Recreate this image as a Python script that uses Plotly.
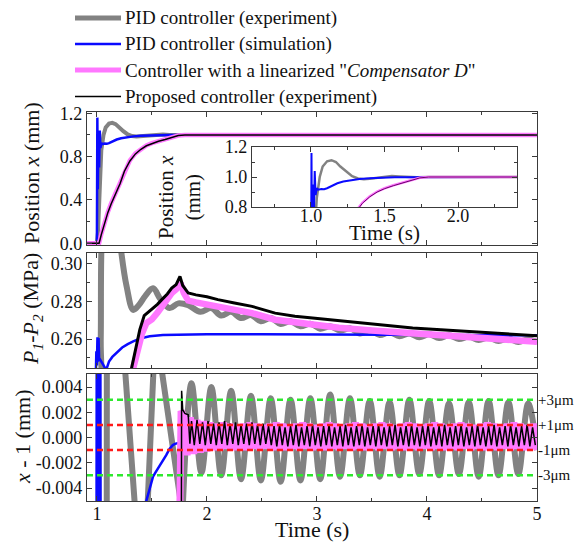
import plotly.graph_objects as go

# ====================== DATA ======================
# --- Top panel: position x (mm) ---
t_pos_gray = [0.91, 1.00, 1.01, 1.02, 1.03, 1.04, 1.06, 1.08, 1.11, 1.14, 1.17, 1.20, 1.24,
              1.28, 1.32, 1.36, 1.40, 1.45, 1.50, 1.55, 1.60, 1.66, 1.72, 1.80, 5.00]
x_pos_gray = [0.000, 0.000, 0.100, 0.450, 0.700, 0.860, 1.000, 1.070, 1.105, 1.112, 1.100, 1.070, 1.035,
              1.005, 0.990, 0.985, 0.988, 0.996, 1.004, 1.007, 1.004, 0.999, 0.998, 1.000, 1.000]

t_pos_blue = [0.91, 1.000, 1.004, 1.008, 1.014, 1.020, 1.026, 1.032, 1.040, 1.05, 1.07, 1.09, 1.11,
              1.14, 1.18, 1.22, 1.27, 1.33, 1.40, 1.48, 1.57, 1.67, 1.76, 5.00]
x_pos_blue = [0.000, 0.000, 1.160, 0.500, 0.950, 0.700, 1.040, 0.880, 0.925, 0.915, 0.920, 0.918, 0.925,
              0.940, 0.958, 0.970, 0.980, 0.987, 0.992, 0.996, 0.998, 0.999, 1.000, 1.000]

t_pos_prop = [0.91, 1.02, 1.04, 1.07, 1.10, 1.13, 1.17, 1.21, 1.25, 1.30, 1.35, 1.40, 1.45, 1.50,
              1.56, 1.62, 1.68, 1.74, 1.80, 5.00]
x_pos_black = [0.000, 0.000, 0.080, 0.190, 0.285, 0.365, 0.460, 0.550, 0.665, 0.760, 0.825, 0.868, 0.900,
               0.922, 0.942, 0.958, 0.978, 0.994, 1.000, 1.000]
x_pos_pink = [0.000, 0.000, 0.085, 0.195, 0.290, 0.370, 0.465, 0.555, 0.670, 0.765, 0.830, 0.872, 0.903,
              0.925, 0.945, 0.960, 0.980, 0.995, 1.000, 1.000]

# --- Middle panel: P1-P2 (MPa) ---
t_p_gray = [0.91, 1.02, 1.035, 1.05, 1.10, 1.18, 1.22, 1.27, 1.33, 1.38, 1.44, 1.51, 1.58, 1.66, 1.74,
            1.83, 1.94, 2.04, 2.13, 2.22, 2.31, 2.40, 2.49, 2.58, 2.67, 2.76, 2.85, 2.94, 3.03, 3.12,
            3.21, 3.30, 3.39, 3.48, 3.57, 3.66, 3.75, 3.84, 3.93, 4.02, 4.11, 4.20, 4.29, 4.38, 4.47,
            4.56, 4.65, 4.74, 4.83, 4.92, 5.00]
p_gray = [0.200, 0.200, 0.260, 0.320, 0.340, 0.330, 0.307, 0.288, 0.2755, 0.278, 0.283, 0.287, 0.281,
          0.2765, 0.279, 0.278, 0.2745, 0.2765, 0.2725, 0.2745, 0.2712, 0.2728, 0.2695, 0.2712, 0.2680,
          0.2695, 0.2668, 0.2682, 0.2655, 0.2668, 0.2645, 0.2658, 0.2630, 0.2645, 0.2622, 0.2636,
          0.2615, 0.2630, 0.2610, 0.2625, 0.2605, 0.2620, 0.2600, 0.2613, 0.2595, 0.2608, 0.2590,
          0.2603, 0.2585, 0.2598, 0.2585]

t_p_blue = [0.91, 0.990, 0.995, 1.000, 1.005, 1.010, 1.015, 1.020, 1.05, 1.075, 1.09, 1.11, 1.14, 1.18,
            1.23, 1.28, 1.33, 1.40, 1.48, 1.60, 1.80, 2.00, 2.50, 3.00, 3.50, 4.00, 4.50, 5.00]
p_blue = [0.240, 0.240, 0.2535, 0.2460, 0.2610, 0.2480, 0.2605, 0.2500, 0.2470, 0.2445, 0.2445, 0.2480,
          0.2505, 0.2528, 0.2555, 0.2573, 0.2588, 0.2604, 0.2615, 0.2621, 0.2624, 0.2625, 0.2625,
          0.2624, 0.2622, 0.2621, 0.2621, 0.2620]

t_p_black = [0.91, 1.29, 1.315, 1.35, 1.39, 1.43, 1.47, 1.50, 1.55, 1.59, 1.64, 1.68, 1.72, 1.755, 1.78,
             1.83, 1.90, 2.00, 2.10, 2.25, 2.41, 2.62, 2.80, 2.96, 3.20, 3.50, 3.87, 4.20, 4.50, 4.80, 5.00]
p_black = [0.200, 0.200, 0.2445, 0.2550, 0.2650, 0.2725, 0.2745, 0.2755, 0.2785, 0.2810, 0.2840, 0.2871,
           0.2890, 0.2933, 0.2885, 0.2845, 0.2835, 0.2825, 0.2810, 0.2792, 0.2774, 0.2738, 0.2722,
           0.2712, 0.2698, 0.2678, 0.2659, 0.2647, 0.2636, 0.2626, 0.2618]

t_p_pink = [0.91, 1.30, 1.33, 1.37, 1.41, 1.45, 1.50, 1.55, 1.59, 1.64, 1.68, 1.72, 1.76, 1.79, 1.83,
            1.90, 2.00, 2.10, 2.25, 2.41, 2.62, 2.80, 2.96, 3.20, 3.50, 3.87, 4.20, 4.50, 4.80, 5.00]
p_pink = [0.200, 0.200, 0.2445, 0.2550, 0.2630, 0.2685, 0.2705, 0.2740, 0.2774, 0.2810, 0.2845, 0.2865,
          0.2898, 0.2845, 0.2805, 0.2795, 0.2785, 0.2774, 0.2757, 0.2738, 0.2703, 0.2688, 0.2676,
          0.2660, 0.2645, 0.2630, 0.2615, 0.2603, 0.2592, 0.2586]

# --- Bottom panel: x - 1 (mm) ---
t_e_gray_a = [0.91, 1.085, 1.095, 1.17, 1.255, 1.345, 1.40, 1.46, 1.515, 1.545, 1.585, 1.76, 1.78]
e_gray_a = [-0.05, -0.05, 0.05, 0.10, 0.0055, -0.0055, -0.012, -0.0055, 0.0055, 0.008, 0.0055, -0.0050, -0.0056]
t_e_gray_b = [1.78, 1.86, 1.95, 2.04, 2.13, 2.22, 2.31, 2.40, 2.49, 2.58, 2.67, 2.76, 2.85, 2.94, 3.03,
              3.12, 3.21, 3.30, 3.39, 3.48, 3.57, 3.66, 3.75, 3.84, 3.93, 4.02, 4.11, 4.20, 4.29, 4.38,
              4.47, 4.56, 4.65, 4.74, 4.83, 4.92, 5.00]
e_gray_b = [-0.0056, 0.0043, -0.0028, 0.0040, -0.0030, 0.0037, -0.0033, 0.0033, -0.0034, 0.0031,
            -0.0035, 0.0030, -0.0034, 0.0031, -0.0033, 0.0034, -0.0031, 0.0031, -0.0030, 0.0029,
            -0.0031, 0.0028, -0.0030, 0.0030, -0.0029, 0.0029, -0.0030, 0.0027, -0.0029, 0.0028,
            -0.0031, 0.0029, -0.0030, 0.0028, -0.0029, 0.0027, -0.0010]

t_e_blue = [0.91, 0.995, 1.000, 1.005, 1.010, 1.015, 1.020, 1.025, 1.030, 1.035, 1.45, 1.47, 1.49, 1.51,
            1.53, 1.56, 1.60, 1.63, 1.66, 1.69, 1.71, 1.755, 1.80, 2.00, 2.50, 5.00]
e_blue = [-0.02, -0.02, 0.02, -0.02, 0.02, -0.02, 0.02, -0.02, 0.02, -0.02, -0.0050, -0.0043, -0.0037,
          -0.0031, -0.0028, -0.0024, -0.0019, -0.0014, -0.0009, -0.0006, -0.0005, -0.0004, -0.0003,
          -0.0002, 0.0, 0.0]

t_e_pink = [0.91, 1.745, 1.755, 1.765,
            1.79, 1.82, 1.85, 1.88, 1.91, 1.94, 1.97, 2.00, 2.03, 2.06, 2.09, 2.12, 2.15, 2.18, 2.21, 2.24,
            2.27, 2.30, 2.33, 2.36, 2.39, 2.42, 2.45, 2.48, 2.51, 2.54, 2.57, 2.60, 2.63, 2.66, 2.69,
            2.72, 2.75, 2.78, 2.81, 2.84, 2.87, 2.90, 2.93, 2.96, 2.99, 3.02, 3.05, 3.08, 3.11, 3.14,
            3.17, 3.20, 3.23, 3.26, 3.29, 3.32, 3.35, 3.38, 3.41, 3.44, 3.47, 3.50, 3.53, 3.56, 3.59,
            3.62, 3.65, 3.68, 3.71, 3.74, 3.77, 3.80, 3.83, 3.86, 3.89, 3.92, 3.95, 3.98, 4.01, 4.04,
            4.07, 4.10, 4.13, 4.16, 4.19, 4.22, 4.25, 4.28, 4.31, 4.34, 4.37, 4.40, 4.43, 4.46, 4.49,
            4.52, 4.55, 4.58, 4.61, 4.64, 4.67, 4.70, 4.73, 4.76, 4.79, 4.82, 4.85, 4.88, 4.91, 4.94,
            4.97, 5.00]
e_pink = [-0.02, -0.02, -0.005, 0.0021,
          0.0017, -0.0014, 0.0016, -0.0013, 0.0014, -0.0012, 0.0013, -0.0011, 0.0012, -0.0010,
          0.0011, -0.0010, 0.0012, -0.0009, 0.0011, -0.0010, 0.0010, -0.0009, 0.0011, -0.0010,
          0.0012, -0.0009, 0.0011, -0.0010, 0.0010, -0.0009, 0.0011, -0.0010, 0.0012, -0.0009,
          0.0011, -0.0010, 0.0010, -0.0009, 0.0011, -0.0010, 0.0012, -0.0009, 0.0011, -0.0010,
          0.0010, -0.0009, 0.0011, -0.0010, 0.0012, -0.0009, 0.0011, -0.0010, 0.0010, -0.0009,
          0.0011, -0.0010, 0.0012, -0.0009, 0.0011, -0.0010, 0.0010, -0.0009, 0.0011, -0.0010,
          0.0012, -0.0009, 0.0011, -0.0010, 0.0010, -0.0009, 0.0011, -0.0010, 0.0012, -0.0009,
          0.0011, -0.0010, 0.0010, -0.0009, 0.0011, -0.0010, 0.0012, -0.0009, 0.0011, -0.0010,
          0.0010, -0.0009, 0.0011, -0.0010, 0.0012, -0.0009, 0.0011, -0.0010, 0.0010, -0.0009,
          0.0011, -0.0010, 0.0012, -0.0009, 0.0011, -0.0010, 0.0010, -0.0009, 0.0011, -0.0010,
          0.0012, -0.0009, 0.0011, -0.0010, 0.0010, -0.0009, 0.0011, -0.0010]

t_e_black = [0.91, 1.765, 1.770, 1.780, 1.800, 1.830, 1.845,
             1.860, 1.885, 1.910, 1.935, 1.960, 1.985, 2.010, 2.035, 2.060, 2.085,
             2.110, 2.135, 2.160, 2.185, 2.210, 2.235, 2.260, 2.285, 2.310, 2.335,
             2.360, 2.385, 2.410, 2.435, 2.460, 2.485, 2.510, 2.535, 2.560, 2.585,
             2.610, 2.635, 2.660, 2.685, 2.710, 2.735, 2.760, 2.785, 2.810, 2.835,
             2.860, 2.885, 2.910, 2.935, 2.960, 2.985, 3.010, 3.035, 3.060, 3.085,
             3.110, 3.135, 3.160, 3.185, 3.210, 3.235, 3.260, 3.285, 3.310, 3.335,
             3.360, 3.385, 3.410, 3.435, 3.460, 3.485, 3.510, 3.535, 3.560, 3.585,
             3.610, 3.635, 3.660, 3.685, 3.710, 3.735, 3.760, 3.785, 3.810, 3.835,
             3.860, 3.885, 3.910, 3.935, 3.960, 3.985, 4.010, 4.035, 4.060, 4.085,
             4.110, 4.135, 4.160, 4.185, 4.210, 4.235, 4.260, 4.285, 4.310, 4.335,
             4.360, 4.385, 4.410, 4.435, 4.460, 4.485, 4.510, 4.535, 4.560, 4.585,
             4.610, 4.635, 4.660, 4.685, 4.710, 4.735, 4.760, 4.785, 4.810, 4.835,
             4.860, 4.885, 4.910, 4.935, 4.960, 4.985]
e_black = [-0.02, -0.02, 0.0037, 0.0022, 0.0019, 0.0018, -0.0005,
           0.0013, -0.0006, 0.0014, -0.0005, 0.0012, -0.0006, 0.0013, -0.0005, 0.0011, -0.0006,
           0.0012, -0.0005, 0.0013, -0.0006, 0.0011, -0.0005, 0.0012, -0.0006, 0.0010, -0.0005,
           0.0011, -0.0006, 0.0012, -0.0005, 0.0010, -0.0006, 0.0011, -0.0005, 0.0009, -0.0006,
           0.0009, -0.0007, 0.0010, -0.0006, 0.0008, -0.0007, 0.0009, -0.0006, 0.0010, -0.0007,
           0.0008, -0.0006, 0.0009, -0.0007, 0.0010, -0.0006, 0.0008, -0.0007, 0.0009, -0.0006,
           0.0010, -0.0007, 0.0008, -0.0006, 0.0009, -0.0007, 0.0010, -0.0006, 0.0008, -0.0007,
           0.0009, -0.0006, 0.0010, -0.0007, 0.0008, -0.0006, 0.0009, -0.0007, 0.0010, -0.0006,
           0.0008, -0.0007, 0.0009, -0.0006, 0.0010, -0.0007, 0.0008, -0.0006, 0.0009, -0.0007,
           0.0010, -0.0006, 0.0008, -0.0007, 0.0009, -0.0006, 0.0010, -0.0007, 0.0008, -0.0006,
           0.0009, -0.0007, 0.0010, -0.0006, 0.0008, -0.0007, 0.0009, -0.0006, 0.0010, -0.0007,
           0.0008, -0.0006, 0.0009, -0.0007, 0.0010, -0.0006, 0.0008, -0.0007, 0.0009, -0.0006,
           0.0010, -0.0007, 0.0008, -0.0006, 0.0009, -0.0007, 0.0010, -0.0006, 0.0008, -0.0007,
           0.0009, -0.0006, 0.0010, -0.0007, 0.0008, -0.0006]

# reference levels (mm) and their labels
ref_levels = [0.003, 0.001, -0.001, -0.003]
ref_labels = ["+3\u03bcm", "+1\u03bcm", "-1\u03bcm", "-3\u03bcm"]

# tick labels
pos_tickvals = [0.0, 0.4, 0.8, 1.2]
pos_ticktext = ["0.0", "0.4", "0.8", "1.2"]
p_tickvals = [0.26, 0.28, 0.30]
p_ticktext = ["0.26", "0.28", "0.30"]
e_tickvals = [-0.004, -0.002, 0.0, 0.002, 0.004]
e_ticktext = ["-0.004", "-0.002", "0.000", "0.002", "0.004"]
time_tickvals = [1, 2, 3, 4, 5]
time_ticktext = ["1", "2", "3", "4", "5"]
inset_xtickvals = [1.0, 1.5, 2.0]
inset_xticktext = ["1.0", "1.5", "2.0"]
inset_ytickvals = [0.8, 1.0, 1.2]
inset_yticktext = ["0.8", "1.0", "1.2"]

legend_names = ["PID controller (experiment)",
                "PID controller (simulation)",
                "Controller with a linearized \"<i>Compensator D</i>\"",
                "Proposed controller (experiment)"]

# ====================== STYLE / LAYOUT ======================
FONT = "Liberation Serif, Times New Roman, serif"
GRAY = "#828282"
BLUE = "#0a0aff"
PINK = "#ff78ff"
BLACK = "#000000"
GREEN = "#2ee82e"
RED = "#ff1a1a"
AX = "#3a3a3a"
TXT = "#111111"

# the page places the figure 8 px from the top-left corner of the window
PAGE_OFF = 8
WIN_W, WIN_H = 582, 547
W, H = WIN_W - PAGE_OFF, WIN_H - PAGE_OFF
# plot area in window pixels: x 87..537, y 112..501
X0, X1, Y0, Y1 = 87, 537, 112, 501
PW, PH = X1 - X0, Y1 - Y0
ML, MT = X0 - PAGE_OFF, Y0 - PAGE_OFF
MR, MB = W - ML - PW, H - MT - PH


def fx(xp):
    return (xp - X0) / PW


def fy(yp):
    return (Y1 - yp) / PH


def line(x, y, xa, ya, color, width, shape="linear"):
    return go.Scatter(x=x, y=y, xaxis=xa, yaxis=ya, mode="lines",
                      line=dict(color=color, width=width, shape=shape),
                      showlegend=False, hoverinfo="skip")


fig = go.Figure()
# top panel
fig.add_trace(line(t_pos_gray, x_pos_gray, "x", "y", GRAY, 4))
fig.add_trace(line(t_pos_blue, x_pos_blue, "x", "y", BLUE, 2.5))
fig.add_trace(line(t_pos_prop, x_pos_pink, "x", "y", PINK, 4.5))
fig.add_trace(line(t_pos_prop, x_pos_black, "x", "y", BLACK, 1.5))
# middle panel
fig.add_trace(line(t_p_gray, p_gray, "x2", "y2", GRAY, 6, "spline"))
fig.add_trace(line(t_p_blue, p_blue, "x2", "y2", BLUE, 2.5))
fig.add_trace(line(t_p_pink, p_pink, "x2", "y2", PINK, 6.5))
fig.add_trace(line(t_p_black, p_black, "x2", "y2", BLACK, 3))
# bottom panel
fig.add_trace(line(t_e_gray_a, e_gray_a, "x3", "y3", GRAY, 6))
fig.add_trace(line(t_e_gray_b, e_gray_b, "x3", "y3", GRAY, 6, "spline"))
fig.add_trace(line(t_e_blue, e_blue, "x3", "y3", BLUE, 2.5))
fig.add_trace(line(t_e_pink, e_pink, "x3", "y3", PINK, 7))
fig.add_trace(line(t_e_black, e_black, "x3", "y3", BLACK, 1.5))
# inset
fig.add_trace(line(t_pos_gray, x_pos_gray, "x4", "y4", GRAY, 2.5))
fig.add_trace(line(t_pos_blue, x_pos_blue, "x4", "y4", BLUE, 2))
fig.add_trace(line(t_pos_prop, x_pos_pink, "x4", "y4", PINK, 2.5))
fig.add_trace(line(t_pos_prop, x_pos_black, "x4", "y4", "#6a006a", 1))

tickfont = dict(family=FONT, size=18, color=TXT)
base = dict(showline=True, linecolor=AX, linewidth=1.3, mirror="ticks", ticks="inside",
            ticklen=5, tickcolor=AX, tickwidth=1, showgrid=False, zeroline=False,
            tickfont=tickfont)

dom_top = [fy(245), fy(112)]
dom_mid = [fy(368), fy(253)]
dom_bot = [0.0, fy(374)]
xr = [0.91, 5.0]
xminor = dict(ticks="inside", ticklen=3, tickcolor=AX, dtick=0.5, tick0=0, showgrid=False)

fig.update_layout(
    width=W, height=H,
    margin=dict(l=ML, r=MR, t=MT, b=MB),
    paper_bgcolor="white", plot_bgcolor="white",
    font=dict(family=FONT, size=18, color=TXT),
    showlegend=False,
    xaxis=dict(base, domain=[0, 1], anchor="y", range=xr, tickmode="array",
               tickvals=time_tickvals, showticklabels=False, minor=xminor),
    xaxis2=dict(base, domain=[0, 1], anchor="y2", range=xr, tickmode="array",
                tickvals=time_tickvals, showticklabels=False, minor=xminor),
    xaxis3=dict(base, domain=[0, 1], anchor="y3", range=xr, tickmode="array",
                tickvals=time_tickvals, ticktext=time_ticktext, minor=xminor,
                ticklabelstandoff=-4),
    yaxis=dict(base, domain=dom_top, anchor="x", range=[-0.016, 1.212], tickmode="array",
               tickvals=pos_tickvals, ticktext=pos_ticktext,
               minor=dict(ticks="inside", ticklen=3, tickcolor=AX, dtick=0.2, tick0=0, showgrid=False)),
    yaxis2=dict(base, domain=dom_mid, anchor="x2", range=[0.2446, 0.3058], tickmode="array",
                tickvals=p_tickvals, ticktext=p_ticktext,
                minor=dict(ticks="inside", ticklen=3, tickcolor=AX, dtick=0.01, tick0=0, showgrid=False)),
    yaxis3=dict(base, domain=dom_bot, anchor="x3", range=[-0.00503, 0.00503], tickmode="array",
                tickvals=e_tickvals, ticktext=e_ticktext),
    xaxis4=dict(base, domain=[fx(252), fx(517)], anchor="y4", range=[0.6, 2.4], tickmode="array",
                tickvals=inset_xtickvals, ticktext=inset_xticktext, ticklabelstandoff=-8,
                minor=dict(ticks="inside", ticklen=3, tickcolor=AX, dtick=0.25, tick0=0, showgrid=False)),
    yaxis4=dict(base, domain=[fy(207), fy(147)], anchor="x4", range=[0.8, 1.2], tickmode="array",
                tickvals=inset_ytickvals, ticktext=inset_yticktext,
                minor=dict(ticks="inside", ticklen=3, tickcolor=AX, dtick=0.1, tick0=0, showgrid=False)),
)

shapes = []
ref_colors = [GREEN, RED, RED, GREEN]
for lvl, col in zip(ref_levels, ref_colors):
    shapes.append(dict(type="line", xref="x3 domain", x0=0, x1=1, yref="y3", y0=lvl, y1=lvl,
                       line=dict(color=col, width=2.5, dash="6px,4px"), layer="above"))

annotations = []
for lvl, lab in zip(ref_levels, ref_labels):
    annotations.append(dict(text=lab, xref="paper", yref="y3", x=fx(537), y=lvl, xanchor="left",
                            yanchor="middle", showarrow=False, borderpad=0,
                            font=dict(family=FONT, size=15, color=TXT)))

# legend drawn in the top margin
leg_rows = [18, 44, 70, 96.5]
leg_colors = [GRAY, BLUE, PINK, BLACK]
leg_widths = [5, 2.5, 5, 1.5]
for name, yy, col, wd in zip(legend_names, leg_rows, leg_colors, leg_widths):
    shapes.append(dict(type="line", xref="paper", yref="paper", x0=fx(75), x1=fx(121),
                       y0=fy(yy), y1=fy(yy), line=dict(color=col, width=wd)))
    annotations.append(dict(text=name, xref="paper", yref="paper", x=fx(123), y=fy(yy),
                            xanchor="left", yanchor="middle", showarrow=False,
                            font=dict(family=FONT, size=19, color=TXT)))

# axis titles
title_font = dict(family=FONT, size=22, color=TXT)
annotations += [
    dict(text="Position <i>x</i> (mm)", xref="paper", yref="paper", x=fx(31), y=fy(173),
         textangle=-90, showarrow=False, font=title_font, xanchor="center", yanchor="middle"),
    dict(text="<i>P</i><sub><i>1</i></sub>-<i>P</i><sub><i>2</i></sub> (MPa)", xref="paper",
         yref="paper", x=fx(32), y=fy(309), textangle=-90, showarrow=False, font=title_font,
         xanchor="center", yanchor="middle"),
    dict(text="<i>x</i> - 1 (mm)", xref="paper", yref="paper", x=fx(22), y=fy(437),
         textangle=-90, showarrow=False, font=title_font, xanchor="center", yanchor="middle"),
    dict(text="Time (s)", xref="paper", yref="paper", x=0.5, y=fy(529), showarrow=False,
         font=title_font, xanchor="center", yanchor="middle"),
    dict(text="Position <i>x</i><br>(mm)", xref="paper", yref="paper", x=fx(179), y=fy(197),
         textangle=-90, showarrow=False, font=dict(family=FONT, size=21, color=TXT),
         xanchor="center", yanchor="middle"),
    dict(text="Time (s)", xref="paper", yref="paper", x=fx(384), y=fy(233), showarrow=False,
         font=dict(family=FONT, size=21, color=TXT), xanchor="center", yanchor="middle"),
]

fig.update_layout(shapes=shapes, annotations=annotations)
fig.write_html("out.html")
